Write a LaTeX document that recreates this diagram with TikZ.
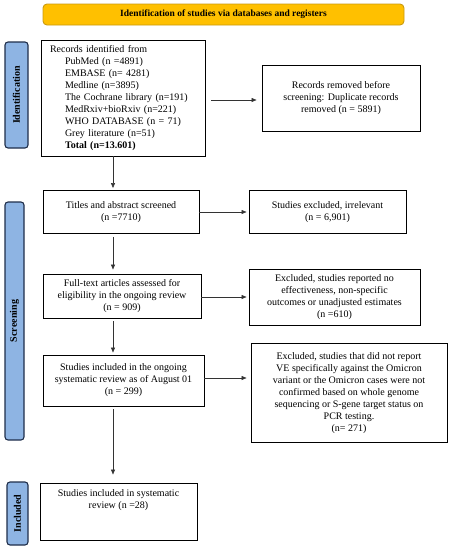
\documentclass[tikz,border=0pt]{standalone}
\usepackage{fontspec}
\setmainfont{Liberation Serif}
\usetikzlibrary{arrows.meta,calc}
\definecolor{bannerfill}{HTML}{FFC000}
\definecolor{bannerline}{HTML}{C99A10}
\definecolor{sidefill}{HTML}{8EB4E3}
\definecolor{sideline}{HTML}{1F2E4A}
\definecolor{arrowc}{HTML}{333333}
\begin{document}
\begin{tikzpicture}[x=1pt,y=-1pt,
  txt/.style={font=\fontsize{10}{12}\selectfont, align=center, inner sep=0pt},
  box/.style={draw=black, line width=0.9pt, fill=white, inner sep=0pt, font=\fontsize{10}{12}\selectfont, align=center},
  side/.style={draw=sideline, fill=sidefill, line width=1.1pt, rounded corners=3pt, rotate=90, inner sep=0pt, font=\fontsize{10}{12}\selectfont\bfseries},
  conn/.style={draw=arrowc, line width=0.6pt, -{Triangle[length=5pt,width=4pt]}}
]
\useasboundingbox (0,0) rectangle (451,550);

% banner
\node[draw=bannerline, fill=bannerfill, line width=0.9pt, rounded corners=4pt,
      minimum width=361pt, minimum height=21pt, inner sep=0pt,
      font=\fontsize{9.5}{11}\selectfont\bfseries] (banner) at (223.5,14.5)
      {Identification of studies via databases and registers};

% side labels
\node[side, minimum width=106pt, minimum height=23pt] (idlab) at (16.5,95) {Identification};
\node[side, minimum width=238pt, minimum height=19pt] (scrlab) at (14.5,321) {Screening};
\node[side, minimum width=63pt, minimum height=21pt] (inclab) at (17.5,513.5) {Included};

% main column
\node[box, minimum width=164pt, minimum height=116pt, text width=146pt, align=left] (b1) at (123,98)
 {Records identified from\\
  \hspace*{15pt}PubMed (n =4891)\\
  \hspace*{15pt}EMBASE (n= 4281)\\
  \hspace*{15pt}Medline (n=3895)\\
  \hspace*{15pt}The Cochrane library (n=191)\\
  \hspace*{15pt}MedRxiv+bioRxiv (n=221)\\
  \hspace*{15pt}WHO DATABASE (n = 71)\\
  \hspace*{15pt}Grey literature (n=51)\\
  \hspace*{15pt}\textbf{Total (n=13.601)}};

\node[box, minimum width=158pt, minimum height=66pt] (rem) at (341,98)
 {Records removed before\\screening: Duplicate records\\removed (n = 5891)};

\node[box, minimum width=156pt, minimum height=43pt] (b2) at (121,212)
 {Titles and abstract screened\\(n =7710)};
\node[box, minimum width=157pt, minimum height=43pt] (ex1) at (327.5,212)
 {Studies excluded, irrelevant\\(n = 6,901)};

\node[box, minimum width=158pt, minimum height=44pt] (b3) at (122,296)
 {Full-text articles assessed for\\eligibility in the ongoing review\\(n = 909)};
\node[box, minimum width=171pt, minimum height=56pt] (ex2) at (334.5,297.5)
 {Excluded, studies reported no\\effectiveness, non-specific\\outcomes or unadjusted estimates\\(n =610)};

\node[box, minimum width=161pt, minimum height=51pt] (b4) at (123.5,380.5)
 {Studies included in the ongoing\\systematic review as of August 01\\(n = 299)};
\node[box, minimum width=196pt, minimum height=99pt] (ex3) at (349,393)
 {Excluded, studies that did not report\\VE specifically against the Omicron\\variant or the Omicron cases were not\\confirmed based on whole genome\\sequencing or S-gene target status on\\PCR testing.\\(n= 271)};

\node[box, minimum width=157pt, minimum height=57pt] (b5) at (118.5,511.5) {};
\node[txt, anchor=north] (b5t) at ([yshift=-7pt]b5.north)
 {Studies included in systematic\\review (n =28)};

% connectors
\coordinate (c1) at (113,0);
\draw[conn, shorten >=2pt] (b1.south -| c1) -- (b2.north -| c1);
\draw[conn, shorten >=4pt, shorten <=3pt] (b2.south -| c1) -- (b3.north -| c1);
\draw[conn, shorten >=2pt, shorten <=3pt] (b3.south -| c1) -- (b4.north -| c1);
\draw[conn, shorten >=8pt, shorten <=3pt] (b4.south -| c1) -- (b5.north -| c1);

\coordinate (r1) at (0,100);
\coordinate (r2) at (0,212);
\coordinate (r3) at (0,297);
\coordinate (r4) at (0,378);
\draw[conn, shorten <=6pt, shorten >=5pt] (b1.east |- r1) -- (rem.west |- r1);
\draw[conn, shorten >=2pt] (b2.east |- r2) -- (ex1.west |- r2);
\draw[conn, shorten >=2pt] (b3.east |- r3) -- (ex2.west |- r3);
\draw[conn, shorten >=4pt] (b4.east |- r4) -- (ex3.west |- r4);
\end{tikzpicture}
\end{document}
